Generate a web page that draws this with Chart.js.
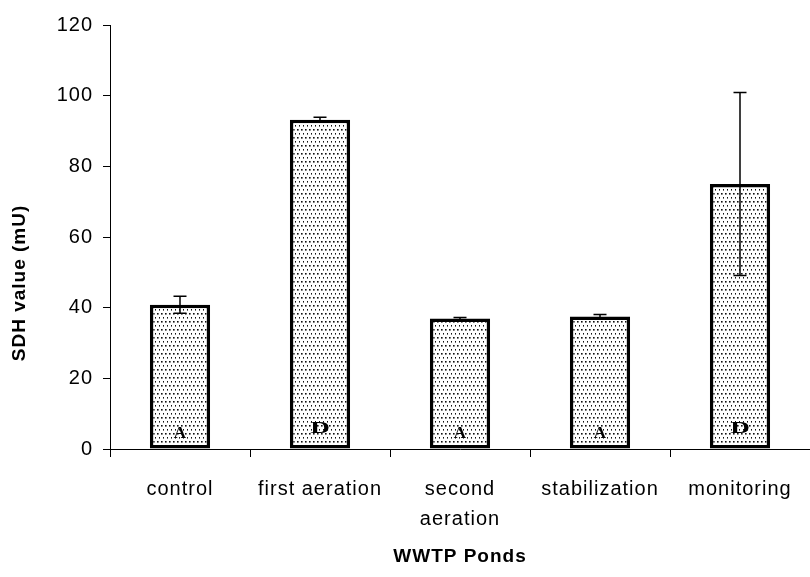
<!DOCTYPE html>
<html>
<head>
<meta charset="utf-8">
<script src="https://cdn.jsdelivr.net/npm/chart.js@4"></script>
<style>
  html, body { margin: 0; padding: 0; background: #fff; }
  #wrap { width: 810px; height: 577px; }
</style>
</head>
<body>
<div id="wrap"><canvas id="sdh-chart"></canvas></div>
<script>

    const ponds = ['control', 'first aeration', ['second', 'aeration'], 'stabilization', 'monitoring'];
    const sdhValues = [40.8, 93.2, 36.9, 37.5, 75.0];
    const sdhErrors = [2.4, 0.7, 0.3, 0.6, 25.9];
    const groupLetters = ['A', 'D', 'A', 'A', 'D'];
    const yTicks = [0, 20, 40, 60, 80, 100, 120];

    // stippled fill like the original
    let tile = document.createElement('canvas');
    tile.width = 4;
    tile.height = 8;
    let tctx = tile.getContext('2d');
    tctx.fillStyle = '#fff';
    tctx.fillRect(0, 0, 4, 8);
    tctx.fillStyle = '#111';
    tctx.fillRect(1, 1, 1.6, 1.6);
    tctx.fillRect(3, 5, 1.6, 1.6);

    let canvas = document.getElementById('sdh-chart');
    let ctx = canvas.getContext('2d');
    const dots = ctx.createPattern(tile, 'repeat');

    const spacing = {
        id: 'spacing',
        beforeUpdate(chart) { chart.ctx.letterSpacing = '1px'; },
        beforeDraw(chart) { chart.ctx.letterSpacing = '1px'; }
    };

    const extras = {
        id: 'extras',
        afterDatasetsDraw(chart) {
            let c = chart.ctx;
            let meta = chart.getDatasetMeta(0);
            let y = chart.scales.y;

            c.save();
            c.strokeStyle = '#000';
            c.lineWidth = 1.5;
            meta.data.forEach((bar, i) => {
                let top = y.getPixelForValue(sdhValues[i] + sdhErrors[i]);
                let bot = y.getPixelForValue(sdhValues[i] - sdhErrors[i]);
                c.beginPath();
                c.moveTo(bar.x, top);
                c.lineTo(bar.x, bot);
                c.moveTo(bar.x - 6.5, top);
                c.lineTo(bar.x + 6.5, top);
                c.moveTo(bar.x - 6.5, bot);
                c.lineTo(bar.x + 6.5, bot);
                c.stroke();
            });

            // group letters near the base of each bar
            c.letterSpacing = '0px';
            c.fillStyle = '#000';
            c.font = 'bold 17px "Liberation Serif"';
            c.textAlign = 'center';
            c.textBaseline = 'middle';
            meta.data.forEach((bar, i) => {
                let isD = groupLetters[i] == 'D';
                c.save();
                c.translate(bar.x, y.getPixelForValue(0) - (isD ? 20 : 15));
                c.scale(isD ? 1.6 : 1.0, 1);
                c.fillText(groupLetters[i], 0, 0);
                c.restore();
            });

            // y axis title
            c.letterSpacing = '1px';
            c.font = 'bold 19px "Liberation Sans"';
            c.translate(20, 283);
            c.rotate(-Math.PI / 2);
            c.fillText('SDH value (mU)', 0, 0);
            c.restore();
        }
    };

    const data = {
        labels: ponds,
        datasets: [{
            label: 'SDH',
            data: sdhValues,
            backgroundColor: dots,
            borderColor: '#000',
            borderWidth: 3.5,
            borderSkipped: false,
            categoryPercentage: 1,
            barPercentage: 0.43
        }]
    };

    const config = {
        type: 'bar',
        data: data,
        plugins: [spacing, extras],
        options: {
            responsive: true,
            maintainAspectRatio: false,
            animation: false,
            layout: { padding: { top: 25, right: 0, bottom: 0, left: 0 } },
            plugins: {
                legend: { display: false },
                tooltip: { enabled: false }
            },
            scales: {
                x: {
                    afterFit(s) { s.height = 128; },
                    grid: { drawOnChartArea: false, drawTicks: true, tickLength: 8, color: '#000', offset: true },
                    border: { display: true, color: '#000', width: 1 },
                    ticks: {
                        color: '#000',
                        padding: 17,
                        maxRotation: 0,
                        autoSkip: false,
                        font: { family: '"Liberation Sans"', size: 20, lineHeight: 1.5 }
                    },
                    title: {
                        display: true,
                        text: 'WWTP Ponds',
                        color: '#000',
                        padding: { top: 0, bottom: 9 },
                        font: { family: '"Liberation Sans"', size: 19, weight: 'bold' }
                    }
                },
                y: {
                    min: 0,
                    max: 120,
                    afterFit(s) { s.width = 110; },
                    afterBuildTicks(s) { s.ticks = yTicks.map(v => ({ value: v })); },
                    grid: { drawOnChartArea: false, drawTicks: true, tickLength: 7, color: '#000' },
                    border: { display: true, color: '#000', width: 1 },
                    ticks: {
                        color: '#000',
                        padding: 10,
                        font: { family: '"Liberation Sans"', size: 20 }
                    }
                }
            }
        }
    };

    let chart = new Chart(ctx, config);

</script>
</body>
</html>
